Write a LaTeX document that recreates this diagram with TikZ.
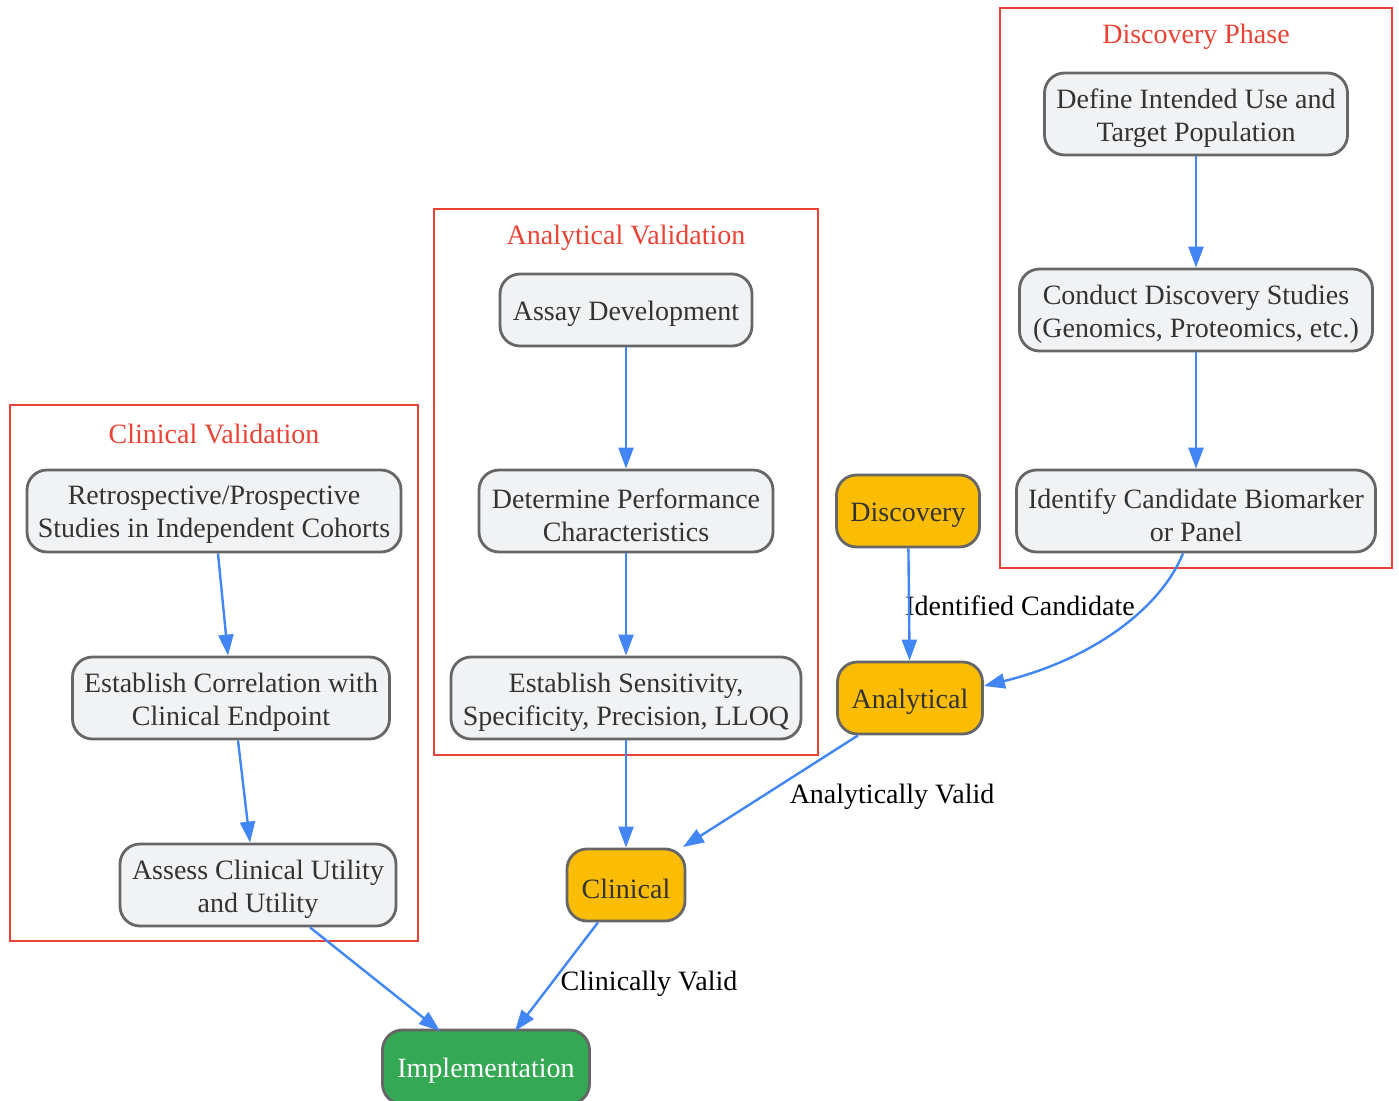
\documentclass[tikz,border=0pt]{standalone}
\usepackage{fontspec}
\setmainfont{Liberation Serif}
\usetikzlibrary{arrows.meta}
\definecolor{nodefill}{HTML}{F1F2F4}
\definecolor{nodeline}{HTML}{666666}
\definecolor{ytw}{HTML}{FBBC04}
\definecolor{gtw}{HTML}{34A853}
\definecolor{btw}{HTML}{4285F4}
\definecolor{rtw}{HTML}{EA4335}
\definecolor{txt}{HTML}{333333}
\tikzset{
  every node/.style={font=\fontsize{28}{33}\selectfont},
  stepbox/.style={draw=nodeline, line width=2.8pt, fill=nodefill, rounded corners=20pt, inner sep=0pt},
  intext/.style={align=center, text=txt, yshift=-4pt, inner sep=0pt},
  phasebox/.style={stepbox, fill=ytw},
  implbox/.style={stepbox, fill=gtw},
  cluster/.style={draw=rtw, line width=1.8pt},
  ctitle/.style={text=rtw},
  flow/.style={draw=btw, line width=2.4pt, -{Triangle[length=21pt,width=15pt]}},
  elabel/.style={text=black}
}
\begin{document}
\begin{tikzpicture}[x=1pt,y=-1pt]
\useasboundingbox (0,0) rectangle (1399,1100);
% clusters
\draw[cluster] (1000,8) rectangle (1392,568);
\node[ctitle] (tdisc) at (1196,37) {Discovery Phase};
\draw[cluster] (434,209) rectangle (818,755);
\node[ctitle] (tana) at (626,238) {Analytical Validation};
\draw[cluster] (10,405) rectangle (418,941);
\node[ctitle] (tcli) at (214,434) {Clinical Validation};
% discovery nodes
\node[stepbox, minimum width=303pt, minimum height=82pt] (d1) at (1196,114) {};
\node[intext] (d1t) at (d1) {Define Intended Use and\\Target Population};
\node[stepbox, minimum width=353pt, minimum height=82pt] (d2) at (1196,310) {};
\node[intext] (d2t) at (d2) {Conduct Discovery Studies\\(Genomics, Proteomics, etc.)};
\node[stepbox, minimum width=359pt, minimum height=82pt] (d3) at (1196,511) {};
\node[intext] (d3t) at (d3) {Identify Candidate Biomarker\\or Panel};
% analytical nodes
\node[stepbox, minimum width=252pt, minimum height=72pt] (a1) at (626,310) {};
\node[intext] (a1t) at (a1) {Assay Development};
\node[stepbox, minimum width=294pt, minimum height=82pt] (a2) at (626,511) {};
\node[intext] (a2t) at (a2) {Determine Performance\\Characteristics};
\node[stepbox, minimum width=350pt, minimum height=82pt] (a3) at (626,698) {};
\node[intext] (a3t) at (a3) {Establish Sensitivity,\\Specificity, Precision, LLOQ};
% clinical nodes
\node[stepbox, minimum width=374pt, minimum height=82pt] (c1) at (214,511) {};
\node[intext] (c1t) at (c1) {Retrospective/Prospective\\Studies in Independent Cohorts};
\node[stepbox, minimum width=317pt, minimum height=82pt] (c2) at (231,698) {};
\node[intext] (c2t) at (c2) {Establish Correlation with\\Clinical Endpoint};
\node[stepbox, minimum width=276pt, minimum height=82pt] (c3) at (258,885) {};
\node[intext] (c3t) at (c3) {Assess Clinical Utility\\and Utility};
% phase nodes
\node[phasebox, minimum width=143pt, minimum height=72pt] (pd) at (908,511) {};
\node[intext] (pdt) at (pd) {Discovery};
\node[phasebox, minimum width=145pt, minimum height=72pt] (pa) at (910,698) {};
\node[intext] (pat) at (pa) {Analytical};
\node[phasebox, minimum width=118pt, minimum height=72pt] (pc) at (626,885) {};
\node[intext] (pct) at (pc) {Clinical};
\node[implbox, minimum width=207pt, minimum height=74pt] (pi) at (486,1067) {};
\node[intext, text=white] (pit) at (pi) {Implementation};
% label nodes
\node[elabel] (l1) at (1020,606) {Identified Candidate};
\node[elabel] (l2) at (892,797) {Analytically Valid};
\node[elabel] (l3) at (649,984) {Clinically Valid};
% edges
\draw[flow] (d1) -- (d2);
\draw[flow] (d2) -- (d3);
\draw[flow] (a1) -- (a2);
\draw[flow] (a2) -- (a3);
\draw[flow] (c1.south -| 218,0) -- (c2.north -| 228,0);
\draw[flow] (c2.south -| 238,0) -- (c3.north -| 250,0);
\draw[flow] (pd) -- (pa);
\draw[flow] (d3.south -| 1183,0) .. controls (1160,610) and (1090,660) .. (pa.east |- 0,686);
\draw[flow] (pa.south -| 858,0) -- (683,847);
\draw[flow] (a3) -- (pc);
\draw[flow] (pc.south -| 598,0) -- (515,1031);
\draw[flow] (c3.south -| 310,0) -- (440,1031);
\end{tikzpicture}
\end{document}
